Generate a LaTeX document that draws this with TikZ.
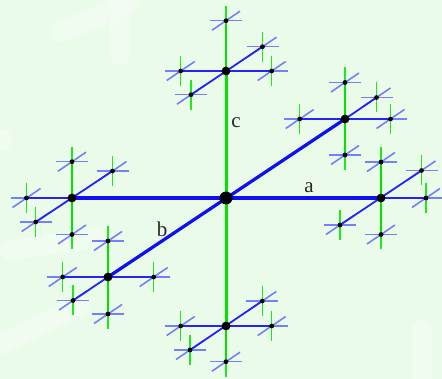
\documentclass[tikz,border=0pt]{standalone}
\usepackage{fontspec}
\setmainfont{Liberation Serif}
\begin{document}
\begin{tikzpicture}[x=1pt,y=-1pt,
  lonb/.style={draw=mblue, line width=3.2pt},
  long/.style={draw=mgreen, line width=3pt},
  ltwb/.style={draw=tblue, line width=1.8pt},
  ltwg/.style={draw=mgreen, line width=2pt},
  lthb/.style={draw=lblue, line width=1.6pt},
  lthg/.style={draw=lgreen, line width=1.2pt},
  wm/.style={draw=white, opacity=0.28, line width=20pt, line cap=round},
  lbl/.style={font=\fontsize{21}{23}\selectfont, inner sep=0pt, text=black!85}]
\definecolor{bg}{RGB}{234,252,233}
\definecolor{mblue}{RGB}{15,15,240}
\definecolor{tblue}{RGB}{35,35,250}
\definecolor{mgreen}{RGB}{0,228,0}
\definecolor{lblue}{RGB}{115,127,255}
\definecolor{lgreen}{RGB}{30,232,30}
\useasboundingbox (0,0) rectangle (442,379);
\fill[bg] (0,0) rectangle (442,379);
% faint watermark strokes
\draw[wm] (62,32) -- (130,2);
\draw[wm] (120,0) -- (120,55);
\draw[wm] (10,250) -- (95,238);
\draw[wm] (0,345) -- (80,305);
\draw[wm] (422,330) -- (422,385);
\draw[wm] (0,140) -- (2,140);
% level 1 points
\coordinate (O) at (226,198);
\coordinate (A1) at (381,198);
\coordinate (A2) at (72,198);
\coordinate (B1) at (345,119);
\coordinate (B2) at (108,277);
\coordinate (C1) at (226,71);
\coordinate (C2) at (226,326);
% level 2 points
\coordinate (A1u) at (381,162);
\coordinate (A1d) at (381,234.5);
\coordinate (A1p) at (421.5,170.5);
\coordinate (A1m) at (340,225);
\coordinate (A1r) at (426,198);
\coordinate (A2u) at (72,161.7);
\coordinate (A2d) at (72,234.5);
\coordinate (A2p) at (112.5,171);
\coordinate (A2m) at (35.7,222);
\coordinate (A2l) at (26.5,198);
\coordinate (B1u) at (345,82.5);
\coordinate (B1d) at (345,155);
\coordinate (B1p) at (376.5,97.5);
\coordinate (B1r) at (390.5,119);
\coordinate (B1l) at (299.7,119);
\coordinate (B2u) at (108,241);
\coordinate (B2d) at (108,314);
\coordinate (B2m) at (73,300.5);
\coordinate (B2r) at (153.7,277);
\coordinate (B2l) at (62.7,277);
\coordinate (C1u) at (226,20.7);
\coordinate (C1p) at (262.5,46.7);
\coordinate (C1m) at (191,94.7);
\coordinate (C1r) at (271.7,71);
\coordinate (C1l) at (180.7,71);
\coordinate (C2d) at (226,361.7);
\coordinate (C2p) at (262.3,301);
\coordinate (C2m) at (190,350);
\coordinate (C2r) at (271.7,326);
\coordinate (C2l) at (180.7,326);
% level 3 crosses
\foreach \p in {A1u,A1d,A1p,A1m,A1r,A2u,A2d,A2p,A2m,A2l,B1u,B1d,B1p,B1r,B1l,B2u,B2d,B2m,B2r,B2l,C1u,C1p,C1m,C1r,C1l,C2d,C2p,C2m,C2r,C2l}{
  \draw[lthg] ([shift={(0,-15)}]\p) -- ([shift={(0,15)}]\p);
  \draw[lthb] ([shift={(-16,0)}]\p) -- ([shift={(16,0)}]\p);
  \draw[lthb] ([shift={(-14,9.5)}]\p) -- ([shift={(14,-9.5)}]\p);
}
% level 2 lines
\draw[ltwg] (A1u) -- (A1d);
\draw[ltwb] (A1m) -- (A1p);
\draw[ltwb] (A1) -- (A1r);
\draw[ltwg] (A2u) -- (A2d);
\draw[ltwb] (A2m) -- (A2p);
\draw[ltwb] (A2) -- (A2l);
\draw[ltwg] (B1u) -- (B1d);
\draw[ltwb] (B1l) -- (B1r);
\draw[ltwb] (B1) -- (B1p);
\draw[ltwg] (B2u) -- (B2d);
\draw[ltwb] (B2l) -- (B2r);
\draw[ltwb] (B2) -- (B2m);
\draw[ltwb] (C1l) -- (C1r);
\draw[ltwb] (C1m) -- (C1p);
\draw[ltwg] (C1) -- (C1u);
\draw[ltwb] (C2l) -- (C2r);
\draw[ltwb] (C2m) -- (C2p);
\draw[ltwg] (C2) -- (C2d);
% level 1 lines
\draw[long] (C1) -- (C2);
\draw[lonb] (A2) -- (A1);
\draw[lonb] (B2) -- (B1);
% dots
\fill (O) circle (6.5);
\foreach \p in {A1,A2,B1,B2,C1,C2}{\fill (\p) circle (4.4);}
\foreach \p in {A1u,A1d,A1p,A1m,A1r,A2u,A2d,A2p,A2m,A2l,B1u,B1d,B1p,B1r,B1l,B2u,B2d,B2m,B2r,B2l,C1u,C1p,C1m,C1r,C1l,C2d,C2p,C2m,C2r,C2l}{\fill (\p) circle (2.4);}
% labels
\node[lbl] (la) at (309,188) {a};
\node[lbl] (lb) at (162,229.5) {b};
\node[lbl] (lc) at (236,122.5) {c};
\end{tikzpicture}
\end{document}
